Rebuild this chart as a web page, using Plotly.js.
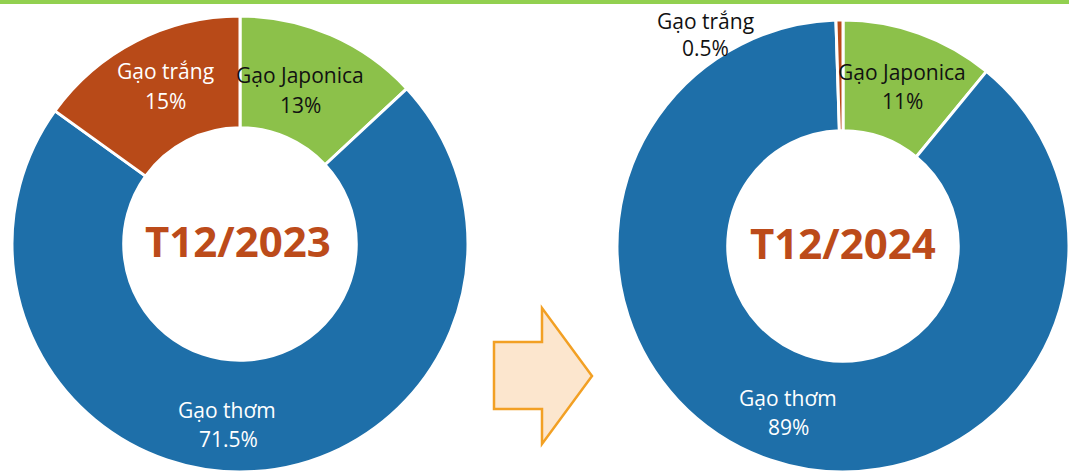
<!DOCTYPE html>
<html>
<head>
<meta charset="utf-8">
<script src="https://cdn.plot.ly/plotly-3.0.1.min.js"></script>
<style>html,body{margin:0;padding:0;background:#fff;}#chart{width:1069px;height:475px;}</style>
</head>
<body>
<div id="chart"></div>
<script>
// ---- data ----
const categories = ['Gạo Japonica', 'Gạo thơm', 'Gạo trắng'];
const values2023 = [13, 71.5, 15];
const values2024 = [11, 89, 0.5];
const periodLabels = ['T12/2023', 'T12/2024'];

// ---- styling ----
const W = 1069, H = 475;
const sliceColors = ['#8CC14A', '#1E6FA9', '#B84A18'];
const px = x => x / W;
const py = y => 1 - y / H;

function pieTrace(values, cx, cy, r) {
  return {
    type: 'pie',
    labels: categories,
    values: values,
    sort: false,
    direction: 'clockwise',
    rotation: 0,
    hole: 0.51,
    textinfo: 'none',
    hoverinfo: 'none',
    marker: {colors: sliceColors, line: {color: '#ffffff', width: 3}},
    domain: {x: [px(cx - r), px(cx + r)], y: [py(cy + r), py(cy - r)]}
  };
}

const data = [
  pieTrace(values2023, 240, 244, 228),
  pieTrace(values2024, 843, 246, 226)
];

const labelFont = {family: 'Open Sans, sans-serif', size: 21};
const textColors = ['#111111', '#ffffff', '#ffffff'];
const textColors2 = ['#111111', '#ffffff', '#111111'];

// label positions (pixel) for [name, value] per category
const pos2023 = [[300, 75, 300, 105], [227, 410, 228, 439], [165, 71, 165, 101]];
const pos2024 = [[902, 72, 902, 101], [788, 398, 788, 427], [705, 21, 705, 48]];

const annotations = [];
function addLabels(values, pos, colors) {
  categories.forEach((c, i) => {
    const p = pos[i];
    annotations.push({xref: 'paper', yref: 'paper', x: px(p[0]), y: py(p[1]), text: c,
      showarrow: false, xanchor: 'center', yanchor: 'middle',
      font: Object.assign({}, labelFont, {color: colors[i]})});
    annotations.push({xref: 'paper', yref: 'paper', x: px(p[2]), y: py(p[3]), text: values[i] + '%',
      showarrow: false, xanchor: 'center', yanchor: 'middle',
      font: Object.assign({}, labelFont, {color: colors[i]})});
  });
}
addLabels(values2023, pos2023, textColors);
addLabels(values2024, pos2024, textColors2);

const centerFont = {family: 'Open Sans, sans-serif', size: 42, color: '#BC4B1A', weight: 'bold'};
annotations.push({xref: 'paper', yref: 'paper', x: px(238), y: py(240), text: '<b>' + periodLabels[0] + '</b>',
  showarrow: false, xanchor: 'center', yanchor: 'middle', font: centerFont});
annotations.push({xref: 'paper', yref: 'paper', x: px(843), y: py(243), text: '<b>' + periodLabels[1] + '</b>',
  showarrow: false, xanchor: 'center', yanchor: 'middle', font: centerFont});

// arrow shape
const arrowPts = [[494, 342], [542, 342], [542, 308], [592, 376], [542, 444], [542, 409], [494, 409]];
const arrowPath = 'M ' + arrowPts.map(p => px(p[0]) + ',' + py(p[1])).join(' L ') + ' Z';

const shapes = [
  {type: 'rect', xref: 'paper', yref: 'paper', x0: 0, x1: 1, y0: py(4), y1: 1,
   fillcolor: '#92D050', line: {width: 0}},
  {type: 'path', xref: 'paper', yref: 'paper', path: arrowPath,
   fillcolor: '#FCE6CE', line: {color: '#F2A024', width: 2.5}}
];

const layout = {
  width: W, height: H,
  margin: {l: 0, r: 0, t: 0, b: 0},
  paper_bgcolor: '#ffffff',
  plot_bgcolor: '#ffffff',
  showlegend: false,
  annotations: annotations,
  shapes: shapes
};

Plotly.newPlot('chart', data, layout, {displayModeBar: false, staticPlot: true});
</script>
</body>
</html>
